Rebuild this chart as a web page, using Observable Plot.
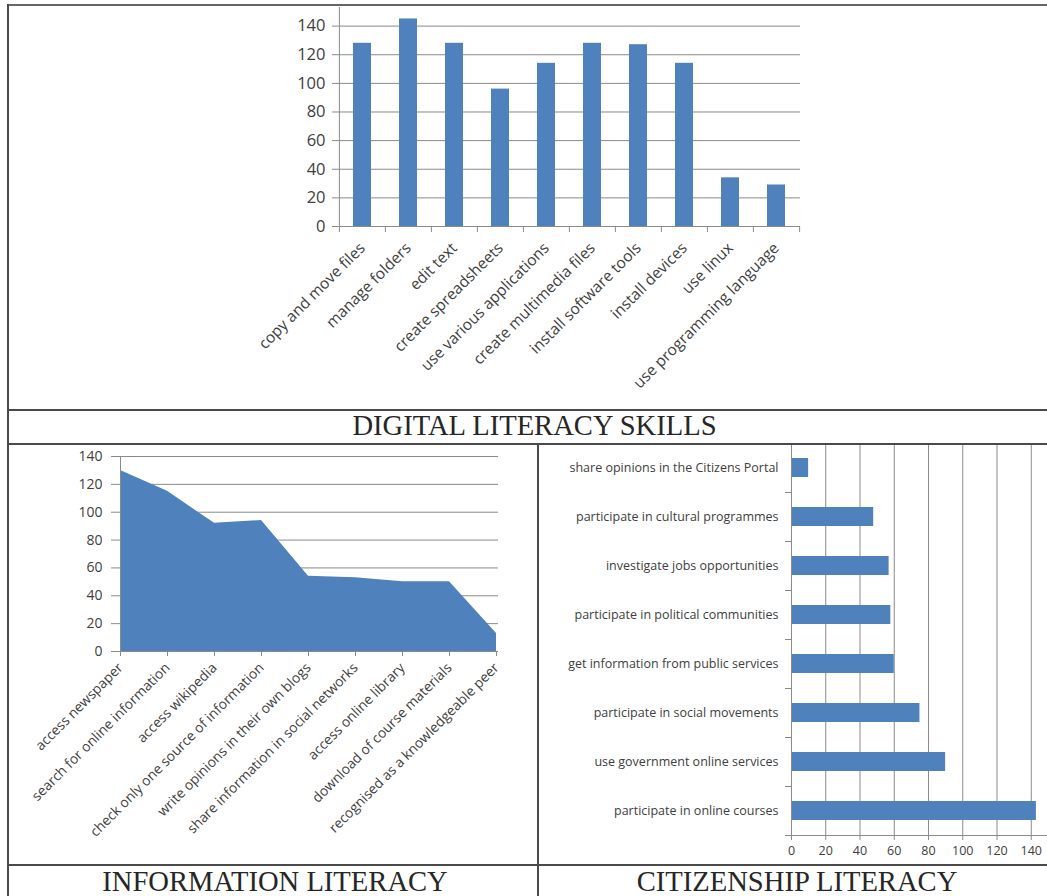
<!DOCTYPE html>
<html><head><meta charset="utf-8">
<script src="https://cdn.jsdelivr.net/npm/d3@7"></script>
<script src="https://cdn.jsdelivr.net/npm/@observablehq/plot@0.6"></script>
<style>
html,body{margin:0;padding:0;background:#fff;width:1047px;height:896px;overflow:hidden;}
#page{position:relative;width:1047px;height:896px;overflow:hidden;}
.line{position:absolute;background:#4a4a4a;z-index:5;}
.title{position:absolute;font-family:"Liberation Serif","Times New Roman",serif;color:#262626;text-align:center;white-space:nowrap;z-index:6;line-height:1;}
svg{position:absolute;}
</style></head><body><div id="page"></div>
<script>
// ---------- data ----------
const digitalSkills = ["copy and move files","manage folders","edit text","create spreadsheets","use various applications","create multimedia files","install software tools","install devices","use linux","use programming language"];
const digitalValues = [128, 145, 128, 96, 114, 128, 127, 114, 34, 29];
const digitalTicks = [0, 20, 40, 60, 80, 100, 120, 140];

const infoSkills = ["access newspaper","search for online information","access wikipedia","check only one source of information","write opinions in their own blogs","share information in social networks","access online library","download of course materials","recognised as a knowledgeable peer"];
const infoValues = [130, 115, 92, 94, 54, 53, 50, 50, 13];
const infoTicks = [0, 20, 40, 60, 80, 100, 120, 140];

const citizenSkills = ["share opinions in the Citizens Portal","participate in cultural programmes","investigate jobs opportunities","participate in political communities","get information from public services","participate in social movements","use government online services","participate in online courses"];
const citizenValues = [10, 48, 57, 58, 60, 75, 90, 143];
const citizenTicks = [0, 20, 40, 60, 80, 100, 120, 140];

const titles = ["DIGITAL LITERACY SKILLS", "INFORMATION LITERACY", "CITIZENSHIP LITERACY"];

// ---------- style ----------
const BAR = "#4F81BD", GRID = "#8a8a8a", TEXT = "#404040";
const FONT = "'Open Sans', 'DejaVu Sans', sans-serif";
const page = document.getElementById("page");
function place(el, left, top) { el.style.left = left + "px"; el.style.top = top + "px"; page.appendChild(el); return el; }
function line(l, t, w, h, color) { const d = document.createElement("div"); d.className = "line"; d.style.width = w + "px"; d.style.height = h + "px"; if (color) d.style.background = color; place(d, l, t); }
function title(text, l, t, w, size) { const d = document.createElement("div"); d.className = "title"; d.textContent = text; d.style.width = w + "px"; d.style.fontSize = size + "px"; place(d, l, t); }

// ---------- top: digital literacy skills ----------
const d1 = digitalSkills.map((s, i) => ({skill: s, value: digitalValues[i]}));
const W1 = 1047, H1 = 408, mL1 = 338, mR1 = 247;
const step1 = (W1 - mL1 - mR1) / digitalSkills.length;
const chart1 = Plot.plot({
  width: W1, height: H1, marginLeft: mL1, marginRight: mR1, marginTop: 7, marginBottom: 182,
  style: {fontFamily: FONT, fontSize: "13px", background: "transparent", overflow: "visible"},
  x: {domain: digitalSkills, paddingInner: 0.6, paddingOuter: 0.3, label: null},
  y: {domain: [0, 153], label: null},
  marks: [
    Plot.gridY(digitalTicks.slice(1), {stroke: GRID, strokeOpacity: 1}),
    Plot.barY(d1, {x: "skill", y: "value", fill: BAR}),
    Plot.ruleY([0], {stroke: GRID}),
    Plot.ruleX([digitalSkills[0]], {x: d => d, dx: -step1 / 2, stroke: GRID}),
    Plot.ruleX(digitalSkills, {x: d => d, y1: 0, y2: 0, dx: -step1 / 2, insetBottom: -6, stroke: GRID}),
    Plot.ruleX(digitalSkills.slice(-1), {x: d => d, y1: 0, y2: 0, dx: step1 / 2, insetBottom: -6, stroke: GRID}),
    Plot.axisY({ticks: digitalTicks, tickSize: 6, tickPadding: 7, stroke: GRID, fill: TEXT, fontSize: 16.5, label: null}),
    Plot.axisX({tickSize: 0, tickPadding: 19, tickRotate: -45, fill: TEXT, fontSize: 15.5, label: null})
  ]
});
place(chart1, 0, 0);

// ---------- bottom left: information literacy ----------
const d2 = infoSkills.map((s, i) => ({skill: s, value: infoValues[i]}));
const chart2 = Plot.plot({
  width: 527, height: 418, marginLeft: 107, marginRight: 39, marginTop: 10, marginBottom: 213,
  style: {fontFamily: FONT, fontSize: "12px", background: "transparent", overflow: "visible"},
  x: {type: "point", domain: infoSkills, padding: 0, label: null},
  y: {domain: [0, 140], label: null},
  marks: [
    Plot.gridY(infoTicks.slice(1), {stroke: GRID, strokeOpacity: 1}),
    Plot.areaY(d2, {x: "skill", y: "value", fill: BAR}),
    Plot.ruleY([0], {stroke: GRID}),
    Plot.ruleX([infoSkills[0]], {x: d => d, stroke: GRID}),
    Plot.axisY({ticks: infoTicks, tickSize: 6, tickPadding: 9, stroke: GRID, fill: TEXT, fontSize: 14, label: null}),
    Plot.axisX({tickSize: 5, tickPadding: 9, tickRotate: -45, stroke: GRID, fill: TEXT, fontSize: 13.8, label: null})
  ]
});
place(chart2, 10, 446);

// ---------- bottom right: citizenship literacy ----------
const d3c = citizenSkills.map((s, i) => ({skill: s, value: citizenValues[i]}));
const W3 = 530, H3 = 421, mL3 = 251, mR3 = 5, mT3 = 0, mB3 = 29;
const step3 = (H3 - mT3 - mB3) / citizenSkills.length;
const chart3 = Plot.plot({
  width: W3, height: H3, marginLeft: mL3, marginRight: mR3, marginTop: mT3, marginBottom: mB3,
  style: {fontFamily: FONT, fontSize: "12px", background: "transparent", overflow: "visible"},
  x: {domain: [0, 160], label: null},
  y: {domain: citizenSkills, paddingInner: 0.62, paddingOuter: 0.31, label: null},
  marks: [
    Plot.gridX(citizenTicks.slice(1).concat([160]), {stroke: GRID, strokeOpacity: 1}),
    Plot.barX(d3c, {y: "skill", x: "value", fill: BAR}),
    Plot.ruleX([0], {stroke: GRID}),
    Plot.ruleY(citizenSkills.slice(-1), {y: d => d, dy: step3 / 2, stroke: GRID}),
    Plot.ruleY(citizenSkills, {y: d => d, x1: 0, x2: 0, dy: -step3 / 2, insetLeft: -6, stroke: GRID}),
    Plot.ruleY(citizenSkills.slice(-1), {y: d => d, x1: 0, x2: 0, dy: step3 / 2, insetLeft: -6, stroke: GRID}),
    Plot.axisX({ticks: citizenTicks, tickSize: 5, tickPadding: 6, stroke: GRID, fill: TEXT, fontSize: 12.5, label: null}),
    Plot.axisY({tickSize: 0, tickPadding: 13, fill: TEXT, fontSize: 12.5, label: null})
  ]
});
place(chart3, 540, 443);

// ---------- table frame & titles ----------
line(7, 4, 1040, 2, "#666");
line(7, 4, 2, 892);
line(7, 409, 1040, 2);
line(7, 443, 1040, 2);
line(537, 443, 2, 453);
line(7, 864, 1040, 2);
title(titles[0], 15, 412, 1039, 28.6);
title(titles[1], 10, 868, 530, 28.6);
title(titles[2], 538, 868, 518, 28.6);
</script>
</body></html>
